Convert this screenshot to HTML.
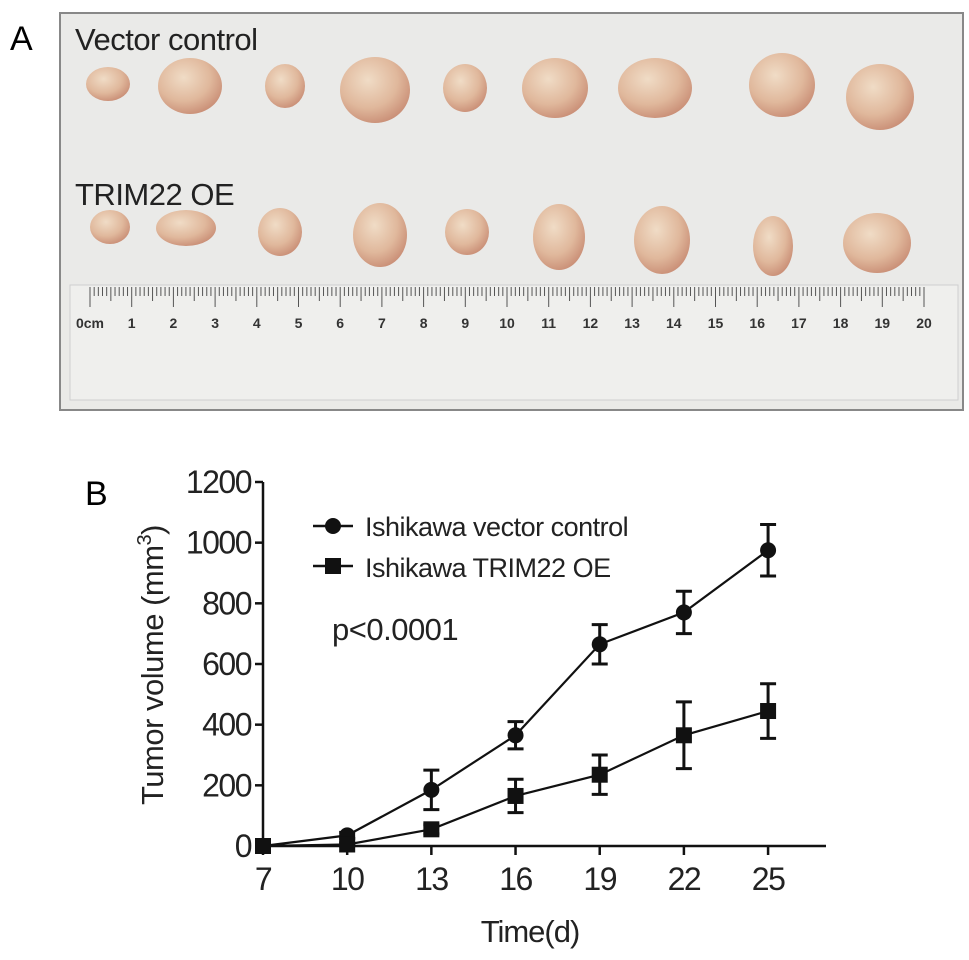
<!DOCTYPE html>
<html><head><meta charset="utf-8"><style>
body{margin:0;background:#fff;}
svg{display:block;font-family:"Liberation Sans",Arial,sans-serif;}
</style></head><body>
<svg width="969" height="960" viewBox="0 0 969 960">
<defs>
<radialGradient id="tum" cx="40%" cy="35%" r="70%">
<stop offset="0%" stop-color="#f0dcc6"/><stop offset="60%" stop-color="#e0b89c"/><stop offset="100%" stop-color="#c88c74"/>
</radialGradient>
</defs>
<text x="10" y="50" font-size="34">A</text>
<g>
<rect x="60" y="13" width="903" height="397" fill="#eaeae8" stroke="#888" stroke-width="2"/>
<text x="75" y="50" font-size="31" fill="#222" letter-spacing="-0.5">Vector control</text>
<text x="75" y="205" font-size="31" fill="#222" letter-spacing="-0.5">TRIM22 OE</text>
<g id="row1"></g>
<g id="row2"></g>
<g>
<rect x="70" y="285" width="888" height="115" fill="#efefed" stroke="#cfcfcf"/>
<g id="ruler-ticks"></g>
</g>
</g>
<text x="85" y="505" font-size="34">B</text>
<g id="chart"></g>
</svg>
<script>
const NS="http://www.w3.org/2000/svg";
function mk(t,a,p){const e=document.createElementNS(NS,t);for(const k in a)e.setAttribute(k,a[k]);p.appendChild(e);return e;}
const r1=document.getElementById('row1'),r2=document.getElementById('row2');
const t1=[[108,84,22,17],[190,86,32,28],[285,86,20,22],[375,90,35,33],[465,88,22,24],[555,88,33,30],[655,88,37,30],[782,85,33,32],[880,97,34,33]];
const t2=[[110,227,20,17],[186,228,30,18],[280,232,22,24],[380,235,27,32],[467,232,22,23],[559,237,26,33],[662,240,28,34],[773,246,20,30],[877,243,34,30]];
t1.forEach(t=>{const e=mk('ellipse',{cx:t[0],cy:t[1],rx:t[2],ry:t[3],fill:'url(#tum)'},r1);});
t2.forEach(t=>{const e=mk('ellipse',{cx:t[0],cy:t[1],rx:t[2],ry:t[3],fill:'url(#tum)'},r2);});
const rt=document.getElementById('ruler-ticks');
for(let i=0;i<=200;i++){const x=90+i*4.17;const h=i%10==0?20:(i%5==0?14:9);mk('line',{x1:x,y1:287,x2:x,y2:287+h,stroke:'#555','stroke-width':1},rt);}
for(let i=0;i<=20;i++){const t=mk('text',{x:90+i*41.7,y:328,'font-size':14,'font-weight':'bold','text-anchor':'middle',fill:'#333'},rt);t.textContent=i==0?'0cm':i;}

const days=[7,10,13,16,19,22,25];
const ctrl=[0,35,185,365,665,770,975];
const ctrlErr=[5,10,65,45,65,70,85];
const oe=[0,5,55,165,235,365,445];
const oeErr=[5,5,15,55,65,110,90];
const yTicks=[0,200,400,600,800,1000,1200];
const X=d=>263+(d-7)*28.06;
const Y=v=>846-v*(364/1200);
const g=document.getElementById('chart');
const ax={stroke:'#111','stroke-width':2.5,fill:'none'};
let e=mk('line',Object.assign({x1:263,y1:Y(1200),x2:263,y2:846},ax),g);
e=mk('line',Object.assign({x1:263,y1:846,x2:826,y2:846},ax),g);
yTicks.forEach(v=>{mk('line',Object.assign({x1:255,y1:Y(v),x2:263,y2:Y(v)},ax),g);const t=mk('text',{x:251,y:Y(v)+11,'font-size':32,'text-anchor':'end',fill:'#222','letter-spacing':-1.5},g);t.textContent=v;});
days.forEach(d=>{mk('line',Object.assign({x1:X(d),y1:846,x2:X(d),y2:855},ax),g);const t=mk('text',{x:X(d),y:890,'font-size':32,'text-anchor':'middle',fill:'#222','letter-spacing':-1.5},g);t.textContent=d;});
let t=mk('text',{x:530,y:942,'font-size':31,'text-anchor':'middle',fill:'#222','letter-spacing':-1},g);t.textContent='Time(d)';
t=mk('text',{transform:'translate(163,665) rotate(-90)','font-size':31,'text-anchor':'middle',fill:'#222','letter-spacing':-0.5},g);t.innerHTML='Tumor volume (mm<tspan dy="-12" font-size="20">3</tspan><tspan dy="12">)</tspan>';
function series(vals,errs,shape,name){
 const s=mk('g',{},g);
 mk('polyline',{points:days.map((d,i)=>X(d)+','+Y(vals[i])).join(' '),fill:'none',stroke:'#111','stroke-width':2.2},s);
 days.forEach((d,i)=>{const x=X(d),y1=Y(vals[i]+errs[i]),y2=Y(vals[i]-errs[i]);
  mk('line',{x1:x,y1:y1,x2:x,y2:y2,stroke:'#111','stroke-width':3},s);
  mk('line',{x1:x-8,y1:y1,x2:x+8,y2:y1,stroke:'#111','stroke-width':3},s);
  mk('line',{x1:x-8,y1:y2,x2:x+8,y2:y2,stroke:'#111','stroke-width':3},s);
  const m=shape=='c'?mk('circle',{cx:x,cy:Y(vals[i]),r:8,fill:'#111'},s):mk('rect',{x:x-8,y:Y(vals[i])-8,width:16,height:16,fill:'#111'},s);
  });
}
series(ctrl,ctrlErr,'c','series-vector-control');
series(oe,oeErr,'s','series-trim22-oe');
const lg=mk('g',{},g);
mk('line',{x1:313,y1:526,x2:353,y2:526,stroke:'#111','stroke-width':2.5},lg);mk('circle',{cx:333,cy:526,r:8,fill:'#111'},lg);
mk('line',{x1:313,y1:566,x2:353,y2:566,stroke:'#111','stroke-width':2.5},lg);mk('rect',{x:325,y:558,width:16,height:16,fill:'#111'},lg);
t=mk('text',{x:365,y:536,'font-size':27,fill:'#222','letter-spacing':-0.5},lg);t.textContent='Ishikawa vector control';
t=mk('text',{x:365,y:577,'font-size':27,fill:'#222','letter-spacing':-0.5},lg);t.textContent='Ishikawa TRIM22 OE';
t=mk('text',{x:332,y:640,'font-size':31,fill:'#222','letter-spacing':-0.5},g);t.textContent='p<0.0001';
</script>
</body></html>
